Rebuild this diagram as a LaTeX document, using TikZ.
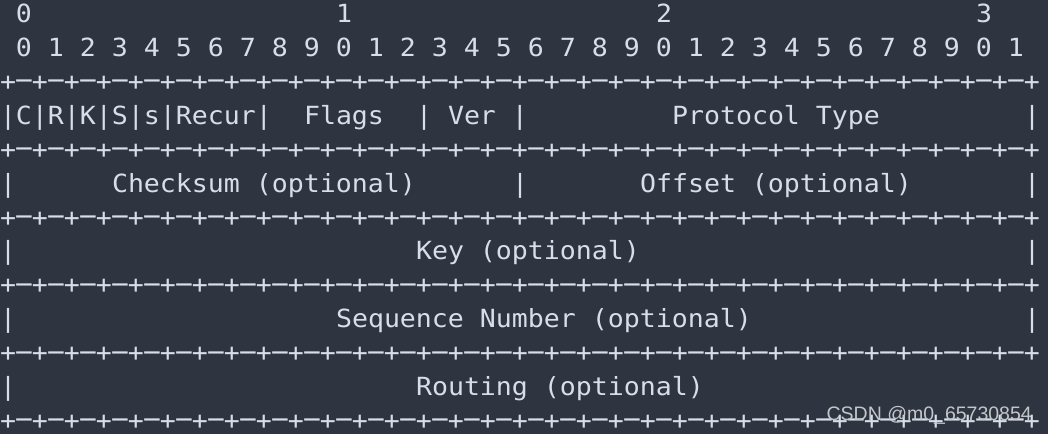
\documentclass[tikz,border=0pt]{standalone}
\usepackage{graphicx}
\usepackage{fontspec}
\newfontfamily\term[FakeStretch=1.063]{DejaVu Sans Mono}
\newfontfamily\wmfont{Liberation Sans}
\definecolor{bgcol}{HTML}{2E3440}
\definecolor{fgcol}{HTML}{D8DEE9}
\definecolor{wmcol}{RGB}{196,198,202}
\tikzset{
  txt/.style={anchor=base west, inner sep=0pt, outer sep=0pt, text=fgcol,
    font=\term\fontsize{25}{30}\selectfont},
  wm/.style={anchor=base east, inner sep=0pt, text=wmcol,
    font=\wmfont\fontsize{19.5}{22}\selectfont}
}
% a hyphen drawn as wide as the terminal's, one cell wide
\newcommand\hy{\makebox[16pt][c]{\raisebox{1.6pt}{\scalebox{2.3}[1.1]{-}}}}
\def\qp{+\hy+\hy+\hy+\hy}
\def\pluses{\qp\qp\qp\qp\qp\qp\qp\qp+}
% \cell{line}{column}{text}
\newcommand\cell[3]{\node[txt] (l#1c#2) at ({16*#2},{22.6+33.9*#1}) {#3};}
\begin{document}
\begin{tikzpicture}[x=1pt,y=-1pt]
\fill[bgcol] (0,0) rectangle (1048,434);
\useasboundingbox (0,0) rectangle (1048,434);
% bit ruler
\cell{0}{1}{0}
\cell{0}{21}{1}
\cell{0}{41}{2}
\cell{0}{61}{3}
\cell{1}{1}{0 1 2 3 4 5 6 7 8 9 0 1 2 3 4 5 6 7 8 9 0 1 2 3 4 5 6 7 8 9 0 1}
% separators
\cell{2}{0}{\pluses}
\cell{4}{0}{\pluses}
\cell{6}{0}{\pluses}
\cell{8}{0}{\pluses}
\cell{10}{0}{\pluses}
\cell{12}{0}{\pluses}
% row 1
\cell{3}{0}{|C|R|K|S|s|Recur|}
\cell{3}{19}{Flags}
\cell{3}{26}{| Ver |}
\cell{3}{42}{Protocol Type}
\cell{3}{64}{|}
% row 2
\cell{5}{0}{|}
\cell{5}{7}{Checksum (optional)}
\cell{5}{32}{|}
\cell{5}{40}{Offset (optional)}
\cell{5}{64}{|}
% row 3
\cell{7}{0}{|}
\cell{7}{26}{Key (optional)}
\cell{7}{64}{|}
% row 4
\cell{9}{0}{|}
\cell{9}{21}{Sequence Number (optional)}
\cell{9}{64}{|}
% row 5
\cell{11}{0}{|}
\cell{11}{26}{Routing (optional)}
% watermark
\node[wm] (watermark) at (1032,420.5) {CSDN @m0\_65730854};
\end{tikzpicture}
\end{document}
